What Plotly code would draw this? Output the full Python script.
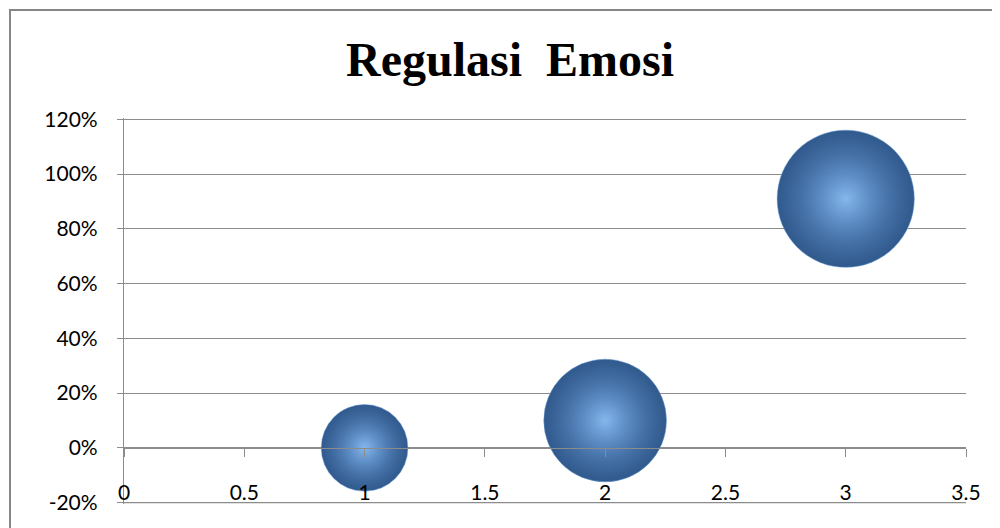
import plotly.graph_objects as go

# Data
x_vals = [1, 2, 3]
y_vals = [0.00, 0.10, 0.91]
bubble_sizes = [2, 4, 5]

y_tick_vals = [-0.2, 0.0, 0.2, 0.4, 0.6, 0.8, 1.0, 1.2]
y_tick_text = ["-20%", "0%", "20%", "40%", "60%", "80%", "100%", "120%"]
x_tick_vals = [0, 0.5, 1, 1.5, 2, 2.5, 3, 3.5]
x_tick_text = ["0", "0.5", "1", "1.5", "2", "2.5", "3", "3.5"]

title_text = "Regulasi\u00a0 Emosi"
y_range = [-0.2, 1.2]
x_range = [0, 3.5]
y_pad = 0.005

# page body has an 8px margin, so the figure is sized to fill the 1000x528 window
W, H = 992, 520
ml, mr, mt, mb = 116, 34, 110, 24
pw, ph = W - ml - mr, H - mt - mb

grid = "#8c8c8c"
max_diam = 97
ref = max(bubble_sizes) / max_diam ** 2

fig = go.Figure()
# main sphere body
fig.add_trace(go.Scatter(
    x=x_vals, y=y_vals, mode="markers",
    marker=dict(
        size=bubble_sizes, sizemode="area", sizeref=ref,
        color="#30598c",
        gradient=dict(type="radial", color="#6a9bd6"),
        line=dict(width=0.5, color="#6f9fd8"),
        opacity=1,
    ),
    cliponaxis=False, showlegend=False, hoverinfo="skip",
))
# soft highlight
fig.add_trace(go.Scatter(
    x=x_vals, y=y_vals, mode="markers",
    marker=dict(
        size=bubble_sizes, sizemode="area", sizeref=ref * 2.2,
        color="rgba(80,130,190,0)",
        gradient=dict(type="radial", color="rgba(155,205,252,0.8)"),
        line=dict(width=0),
    ),
    cliponaxis=False, showlegend=False, hoverinfo="skip",
))

y_full = y_range[1] - y_range[0] + 2 * y_pad

fig.update_layout(
    width=W, height=H,
    margin=dict(l=ml, r=mr, t=mt, b=mb, autoexpand=False),
    paper_bgcolor="white", plot_bgcolor="white",
    title=dict(
        text=title_text,
        font=dict(family="Liberation Serif", size=48, color="black", weight="bold"),
        x=502 / W, xanchor="center", xref="container",
        y=1 - 51.5 / H, yanchor="middle", yref="container",
        automargin=False,
    ),
    xaxis=dict(
        range=x_range, tickvals=x_tick_vals, ticktext=x_tick_text,
        showgrid=False, zeroline=False,
        showline=True, linecolor=grid, linewidth=1.3,
        ticks="outside", ticklen=8, tickcolor=grid, tickwidth=1.3,
        anchor="free", position=(0 - y_range[0] + y_pad) / y_full,
        ticklabelstandoff=18, automargin=False,
        tickfont=dict(family="Lato", size=21, color="black"),
    ),
    yaxis=dict(
        range=[y_range[0] - y_pad, y_range[1] + y_pad],
        tickvals=y_tick_vals, ticktext=y_tick_text,
        showgrid=True, gridcolor=grid, gridwidth=1.3,
        zeroline=False,
        showline=True, linecolor=grid, linewidth=1.3,
        ticks="outside", ticklen=6, tickcolor=grid, tickwidth=1.3,
        ticklabelstandoff=15, automargin=False,
        tickfont=dict(family="Lato", size=21, color="black"),
    ),
    shapes=[
        # bottom gridline at the lower end of the value axis
        dict(type="line", xref="paper", yref="y",
             x0=0, x1=1, y0=y_range[0], y1=y_range[0],
             line=dict(color=grid, width=1.3), layer="below"),
        # chart-area border
        dict(type="rect", xref="paper", yref="paper",
             x0=(2 - ml) / pw, x1=(W + 20 - ml) / pw,
             y0=(mt + ph - (H + 20)) / ph, y1=(mt + ph - 2) / ph,
             line=dict(color="#868686", width=2), fillcolor="rgba(0,0,0,0)",
             layer="above"),
    ],
)

fig.write_html("out.html")
